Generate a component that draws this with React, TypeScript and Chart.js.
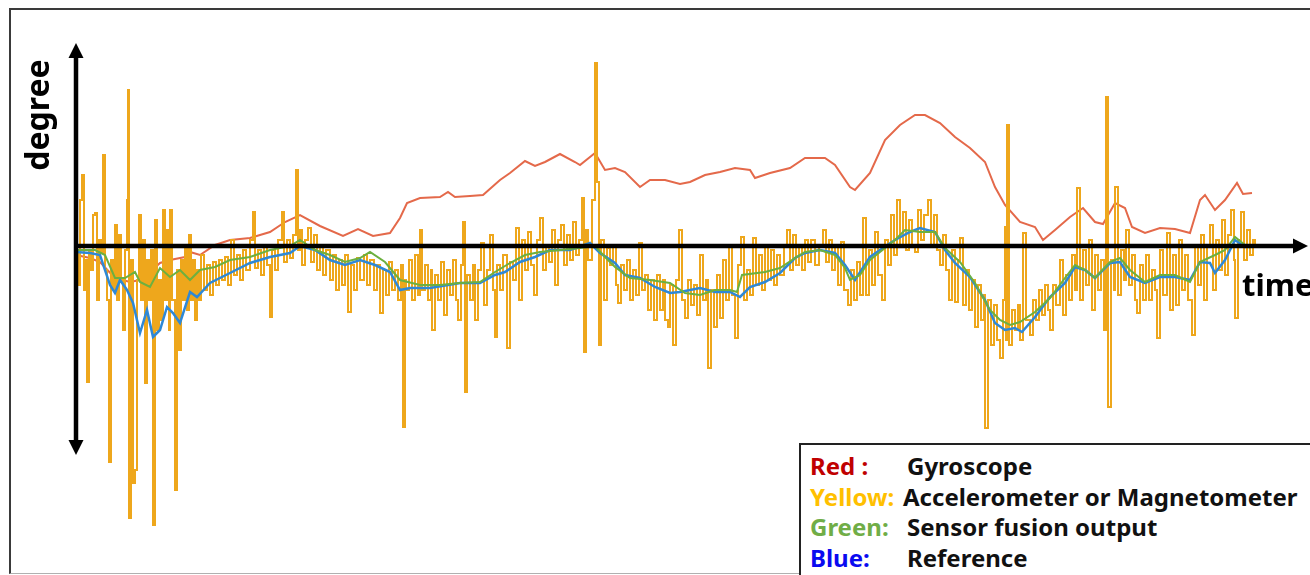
import React, { useEffect, useRef } from 'react';
import { Chart, registerables } from 'chart.js';

Chart.register(...registerables);

// time (arbitrary units) / degree (arbitrary units)
const gyroscope: [number, number][] = [
  [0, -9], [14, -12], [24, -16], [39, -32], [54, -36], [64, -34], [74, -26], [84, -17], [94, -14], [109, -11],
  [114, -6], [124, -9], [139, 1], [154, 6], [174, 8], [194, 14], [209, 24], [224, 31], [244, 20], [267, 10],
  [282, 17], [297, 10], [314, 13], [324, 28], [331, 43], [344, 48], [364, 49], [372, 54], [379, 49], [394, 50],
  [407, 51], [424, 66], [434, 73], [449, 85], [459, 80], [469, 84], [484, 92], [499, 84], [504, 81], [519, 93],
  [529, 76], [539, 78], [549, 74], [564, 59], [574, 66], [589, 66], [604, 62], [614, 64], [629, 71], [644, 74],
  [659, 78], [674, 76], [679, 68], [694, 73], [714, 78], [729, 88], [749, 88], [759, 81], [774, 59], [779, 56],
  [794, 73], [809, 106], [824, 121], [839, 131], [849, 131], [864, 123], [879, 109], [894, 98], [909, 84], [919, 59],
  [929, 41], [944, 24], [959, 19], [967, 6], [979, 16], [994, 29], [1007, 38], [1019, 24], [1027, 22], [1039, 43],
  [1049, 38], [1056, 19], [1069, 13], [1084, 18], [1099, 17], [1114, 13], [1124, 46], [1129, 51], [1139, 36], [1149, 46],
  [1161, 63], [1167, 52], [1176, 53],
];

const accelerometer: [number, number][] = [
  [0, -4], [2, -39], [4, 46], [6, 71], [8, -44], [10, -14], [11, -136], [13, -4], [15, -24], [17, 31], [19, 33], [21, -54],
  [23, 6], [25, -7], [27, 91], [29, -24], [31, -54], [33, -216], [35, -14], [37, -44], [39, 21], [41, -54], [43, 11], [45, -34],
  [47, -84], [49, -4], [51, 46], [52, 156], [53, -272], [55, -14], [57, -237], [59, -224], [61, -34], [63, 31], [65, -54], [67, 6],
  [69, -137], [71, -14], [73, -54], [75, -4], [77, -279], [79, 26], [81, -84], [83, -34], [85, -74], [87, 36], [89, -54], [91, 16],
  [93, -84], [94, 36], [96, -54], [99, -244], [101, -24], [103, -104], [105, -14], [107, -54], [109, 1], [111, -64], [113, 11], [115, -54],
  [117, -14], [119, -74], [121, -24], [123, -54],
  [125, -9], [128, -44], [131, -19], [134, -49], [137, -16], [140, -39], [143, -14], [146, -34], [149, -11], [152, -39], [155, 6], [158, -29],
  [161, -9], [164, -34], [167, -4], [170, -24], [174, 6], [177, 34], [179, -22], [182, -4], [185, -29], [188, 1], [191, -19], [194, -71],
  [196, -4], [199, -24], [202, 6], [206, 34], [208, -16], [211, 6], [214, -12], [217, 11], [220, 76], [222, -4], [224, 16],
  [226, -19], [229, 6], [232, 18], [235, -16], [238, 11], [241, -24], [244, 1], [247, -29], [250, -4], [254, -34], [257, -9], [260, -44],
  [263, -14], [266, -39], [269, -9], [272, -66], [275, -19], [278, -44], [281, -12], [284, -34], [288, -9], [291, -39], [294, -14], [298, -44],
  [301, -19], [304, -67], [307, -24], [310, -49], [313, -16], [316, -44], [319, -24], [322, -54], [325, -19], [327, -181], [329, -34],
  [330, -44], [333, -14], [336, -54], [339, -9], [342, -49], [344, 16], [346, -44], [349, -19], [352, -54], [355, -24], [356, -84], [359, -29],
  [362, -54], [365, -16], [368, -69], [371, -24], [374, -49], [377, -14], [380, -54], [382, -74], [385, -19], [387, 24], [389, -146], [391, -29],
  [394, -54], [397, -19], [399, -74], [402, -24], [405, 3], [408, -59], [411, -24], [414, 11], [417, -44], [419, -91], [421, -19], [424, -44],
  [427, -9], [431, -102], [434, -16], [437, -34], [440, 18], [443, -54], [446, 6], [449, -24], [452, 14], [455, -19], [458, -49], [461, 6],
  [464, 28], [467, -24], [470, 1], [473, -16], [476, 16], [479, -39], [482, 6], [485, 21], [488, -19], [491, 11], [494, -14], [497, 24],
  [500, -9], [503, 6], [506, 48], [508, -106], [510, 16], [512, -14], [516, 46], [519, 183], [521, 64], [523, -99], [525, 6], [528, -54], [531, -2],
  [534, -19], [537, 1], [540, -39], [542, -57], [545, -19], [548, -44], [551, -14], [554, -54], [557, -24], [560, -49], [563, 3], [566, -44],
  [569, -29], [572, -64], [575, -34], [578, -74], [581, -29], [584, -64], [587, -34], [589, -74], [592, -81], [594, -39], [597, -99], [600, -34],
  [603, 16], [606, -54], [609, -72], [612, -34], [615, -59], [618, -39], [621, -69], [624, -9], [627, -54], [630, -34], [632, -122], [635, -44],
  [638, -81], [641, -29], [644, -72], [647, -14], [650, -54], [653, 1], [656, -49], [659, -92], [662, -19], [665, 9], [668, -54], [671, -24],
  [674, -49], [677, 8], [680, -39], [683, -9], [686, -44], [689, 1], [692, -34], [695, -4], [698, -39], [701, -9], [704, -29], [708, 1],
  [711, 16], [714, -24], [717, 11], [720, -19], [723, 1], [726, -24], [729, 6], [732, -16], [735, 6], [739, -19], [743, 1], [747, 16],
  [750, -16], [753, 6], [756, -24], [759, 1], [762, -39], [765, 4], [768, -44], [772, -59],
  [775, -24], [778, -54], [781, -16], [784, -49], [787, 28], [790, -49], [793, -4], [796, -39], [799, 14], [802, -29], [806, -54], [809, 6],
  [812, -19], [815, 31], [818, -9], [821, 46], [824, 1], [827, 34], [830, -4], [833, 26], [836, 1], [839, -6], [842, 36], [845, 6],
  [848, 31], [852, 46], [855, 1], [858, 31], [861, -4], [864, -19], [867, 11], [870, -24], [873, -54], [876, -4], [879, -56], [882, -14],
  [884, 8], [887, -59], [890, -24], [893, -64], [896, -34], [899, -81], [902, -39], [905, -74], [908, -49], [909, -182], [912, -54], [915, -99],
  [918, -59], [921, -94], [924, -112],
  [927, -54], [929, 19], [930, -94], [931, 121], [933, -99], [936, -64], [939, -84], [942, -59], [944, -94], [947, 13], [950, -74], [954, -89],
  [957, -54], [960, -74], [963, -44], [966, -69], [969, -39], [972, -64], [974, -84], [977, -39], [980, -59], [984, -14], [987, -69], [990, -29],
  [993, -54], [996, -9], [999, -44], [1001, 58], [1004, -54], [1007, -4], [1010, -39], [1013, 6], [1016, -64], [1019, -9], [1022, -44], [1025, -14],
  [1028, -84], [1030, 149], [1032, -161], [1035, -14], [1038, -44], [1039, 59], [1042, -49], [1045, -4], [1048, -34], [1050, 16], [1053, -39], [1056, -9],
  [1059, -54], [1061, -67], [1064, -19], [1067, -54], [1070, -9], [1073, -54], [1076, -24], [1079, -44], [1081, -92], [1084, -4], [1087, -49], [1091, 13],
  [1094, -64], [1097, -9], [1100, -59], [1103, 6], [1106, -44], [1109, -9], [1112, -54], [1116, -89], [1119, 1], [1122, -39], [1125, 11], [1128, -54],
  [1131, 1], [1134, 21], [1137, -44], [1140, 6], [1143, -24], [1146, 26], [1149, -29], [1152, 11], [1155, 36], [1158, -14], [1159, -72], [1162, 6],
  [1165, 34], [1168, -14], [1171, 16], [1174, -9], [1177, 6], [1179, 1],
];

const sensorFusion: [number, number][] = [
  [0, -4], [19, -4], [29, -9], [39, -32], [49, -32], [59, -26], [64, -36], [74, -41], [84, -22], [94, -31],
  [104, -24], [114, -34], [124, -24], [139, -21], [154, -14], [174, -11], [194, -4], [214, 0], [224, 6], [239, -4],
  [254, -9], [269, -16], [284, -12], [294, -6], [309, -16], [324, -34], [344, -39], [364, -39], [384, -37], [404, -36],
  [419, -26], [434, -17], [449, -9], [464, -6], [484, -4], [504, -2], [519, 0], [529, -11], [539, -21], [554, -32],
  [574, -34], [594, -37], [609, -47], [624, -49], [639, -44], [654, -44], [661, -46], [666, -29], [689, -26], [704, -22],
  [719, -12], [729, -6], [744, -4], [759, -9], [769, -22], [774, -34], [784, -29], [794, -14], [804, -6], [819, 6],
  [829, 16], [844, 14], [859, 14], [869, -2], [884, -16], [899, -37], [914, -64], [924, -74], [934, -79], [944, -76],
  [959, -66], [974, -52], [989, -32], [999, -19], [1009, -24], [1019, -32], [1034, -16], [1044, -12], [1054, -24], [1069, -36],
  [1084, -29], [1099, -29], [1114, -36], [1124, -16], [1139, -9], [1149, -4], [1159, 9], [1169, 1], [1174, -2],
];

const reference: [number, number][] = [
  [0, -6], [14, -7], [24, -9], [34, -39], [39, -47], [44, -34], [51, -44], [57, -57], [64, -87], [71, -64],
  [77, -91], [84, -84], [91, -61], [97, -67], [104, -77], [114, -46], [121, -51], [134, -37], [154, -27], [174, -17],
  [194, -11], [214, -7], [224, 0], [239, -4], [254, -14], [269, -19], [284, -14], [299, -19], [314, -26], [324, -44],
  [334, -42], [354, -42], [384, -37], [404, -37], [419, -29], [429, -26], [444, -16], [459, -11], [474, -4], [494, -4],
  [514, 3], [524, -7], [539, -17], [549, -29], [564, -32], [579, -41], [594, -47], [604, -46], [624, -42], [639, -46],
  [654, -46], [664, -51], [674, -41], [689, -36], [704, -27], [719, -12], [729, -7], [744, -4], [759, -7], [769, -19],
  [779, -34], [794, -11], [804, -4], [819, 6], [834, 14], [844, 18], [859, 14], [869, -4], [879, -17], [894, -31],
  [909, -54], [919, -77], [929, -84], [939, -82], [946, -86], [959, -71], [974, -51], [989, -37], [999, -21], [1009, -24],
  [1019, -32], [1034, -17], [1044, -16], [1054, -31], [1069, -37], [1084, -31], [1099, -31], [1114, -34], [1124, -16], [1134, -17],
  [1139, -27], [1149, -14], [1159, 6], [1169, -1], [1174, 1],
];

const seriesLabels = ['Gyroscope', 'Accelerometer or Magnetometer', 'Sensor fusion output', 'Reference'];
const legendKeys = ['Red :', 'Yellow:', 'Green:', 'Blue:'];

const X_MIN = 0;
const X_MAX = 1230;
const Y_MIN = -280;
const Y_MAX = 203;
const Y_ARROW_BOTTOM = -209;
const X_ARROW_END = 1232;

const toPoints = (arr: [number, number][]) => arr.map(([x, y]) => ({ x, y }));

const arrowAxes = {
  id: 'arrowAxes',
  afterDatasetsDraw(chart: any) {
    const { ctx } = chart;
    const xs = chart.scales.x;
    const ys = chart.scales.y;
    const x0 = xs.getPixelForValue(0);
    const y0 = ys.getPixelForValue(0);
    const xEnd = xs.getPixelForValue(X_ARROW_END);
    const yTop = ys.getPixelForValue(Y_MAX);
    const yBot = ys.getPixelForValue(Y_ARROW_BOTTOM);
    const head = 15;
    const half = 7.5;
    ctx.save();
    ctx.strokeStyle = '#000';
    ctx.fillStyle = '#000';
    ctx.lineWidth = 4.5;
    ctx.lineCap = 'butt';
    ctx.beginPath();
    ctx.moveTo(x0 - 2, y0);
    ctx.lineTo(xEnd - head + 2, y0);
    ctx.stroke();
    ctx.beginPath();
    ctx.moveTo(xEnd, y0);
    ctx.lineTo(xEnd - head, y0 - half);
    ctx.lineTo(xEnd - head, y0 + half);
    ctx.closePath();
    ctx.fill();
    ctx.beginPath();
    ctx.moveTo(x0, yTop + head - 2);
    ctx.lineTo(x0, yBot - head + 2);
    ctx.stroke();
    ctx.beginPath();
    ctx.moveTo(x0, yTop);
    ctx.lineTo(x0 - half, yTop + head);
    ctx.lineTo(x0 + half, yTop + head);
    ctx.closePath();
    ctx.fill();
    ctx.beginPath();
    ctx.moveTo(x0, yBot);
    ctx.lineTo(x0 - half, yBot - head);
    ctx.lineTo(x0 + half, yBot - head);
    ctx.closePath();
    ctx.fill();
    ctx.restore();
  },
};

export default function App() {
  const canvasRef = useRef<HTMLCanvasElement>(null);

  useEffect(() => {
    document.body.style.margin = '0';
    const canvas = canvasRef.current;
    if (!canvas) return;
    const chart = new Chart(canvas, {
      type: 'line',
      data: {
        datasets: [
          {
            label: seriesLabels[2],
            data: toPoints(sensorFusion),
            borderColor: '#6CB040',
            borderWidth: 2,
            pointRadius: 0,
            tension: 0,
            order: 0,
          },
          {
            label: seriesLabels[3],
            data: toPoints(reference),
            borderColor: '#2E88D6',
            borderWidth: 2.5,
            pointRadius: 0,
            tension: 0,
            order: 1,
          },
          {
            label: seriesLabels[1],
            data: toPoints(accelerometer),
            borderColor: '#EEA71C',
            borderWidth: 2,
            pointRadius: 0,
            stepped: true,
            order: 2,
          },
          {
            label: seriesLabels[0],
            data: toPoints(gyroscope),
            borderColor: '#E4694A',
            borderWidth: 2,
            pointRadius: 0,
            tension: 0,
            order: 3,
          },
        ],
      },
      options: {
        animation: false,
        responsive: false,
        maintainAspectRatio: false,
        layout: { padding: { left: 76, right: 4, top: 43, bottom: 49 } },
        scales: {
          x: { type: 'linear', min: X_MIN, max: X_MAX, display: false },
          y: { type: 'linear', min: Y_MIN, max: Y_MAX, display: false },
        },
        plugins: {
          legend: { display: false },
          tooltip: { enabled: false },
        },
      },
      plugins: [arrowAxes],
    });
    return () => chart.destroy();
  }, []);

  const legendColors = ['#C00000', '#FFC000', '#70AD47', '#0A0AF0'];
  const descLeft = [106, 102, 106, 106];

  return (
    <div
      style={{
        position: 'absolute',
        left: 0,
        top: 0,
        width: 1310,
        height: 575,
        overflow: 'hidden',
        background: '#fff',
        fontFamily: '"Noto Sans", "Open Sans", sans-serif',
      }}
    >
      <div
        style={{
          position: 'absolute',
          left: 9,
          top: 8,
          width: 1320,
          height: 566,
          boxSizing: 'border-box',
          borderTop: '2px solid #3a3a3a',
          borderLeft: '2px solid #3a3a3a',
          borderBottom: '1px solid #b0b0b0',
        }}
      />
      <canvas
        ref={canvasRef}
        width={1310}
        height={575}
        style={{ position: 'absolute', left: 0, top: 0, width: 1310, height: 575 }}
      />
      <div
        style={{
          position: 'absolute',
          left: -38,
          top: 95,
          width: 150,
          height: 40,
          lineHeight: '40px',
          textAlign: 'center',
          fontSize: 32,
          fontWeight: 700,
          color: '#000',
          transform: 'rotate(-90deg)',
          whiteSpace: 'nowrap',
        }}
      >
        degree
      </div>
      <div
        style={{
          position: 'absolute',
          left: 1242,
          top: 264,
          fontSize: 31,
          lineHeight: '40px',
          fontWeight: 700,
          color: '#000',
          whiteSpace: 'nowrap',
        }}
      >
        time
      </div>
      <div
        style={{
          position: 'absolute',
          left: 799,
          top: 443,
          width: 540,
          height: 140,
          boxSizing: 'border-box',
          border: '2px solid #222',
          background: '#fff',
        }}
      >
        {legendKeys.map((k, i) => (
          <React.Fragment key={k}>
            <div
              style={{
                position: 'absolute',
                left: 9,
                top: 6 + i * 30.5,
                lineHeight: '30px',
                fontSize: 24,
                fontWeight: 700,
                color: legendColors[i],
                whiteSpace: 'nowrap',
              }}
            >
              {k}
            </div>
            <div
              style={{
                position: 'absolute',
                left: descLeft[i],
                top: 6 + i * 30.5,
                lineHeight: '30px',
                fontSize: 24,
                fontWeight: 700,
                color: '#111',
                whiteSpace: 'nowrap',
              }}
            >
              {seriesLabels[i]}
            </div>
          </React.Fragment>
        ))}
      </div>
    </div>
  );
}
